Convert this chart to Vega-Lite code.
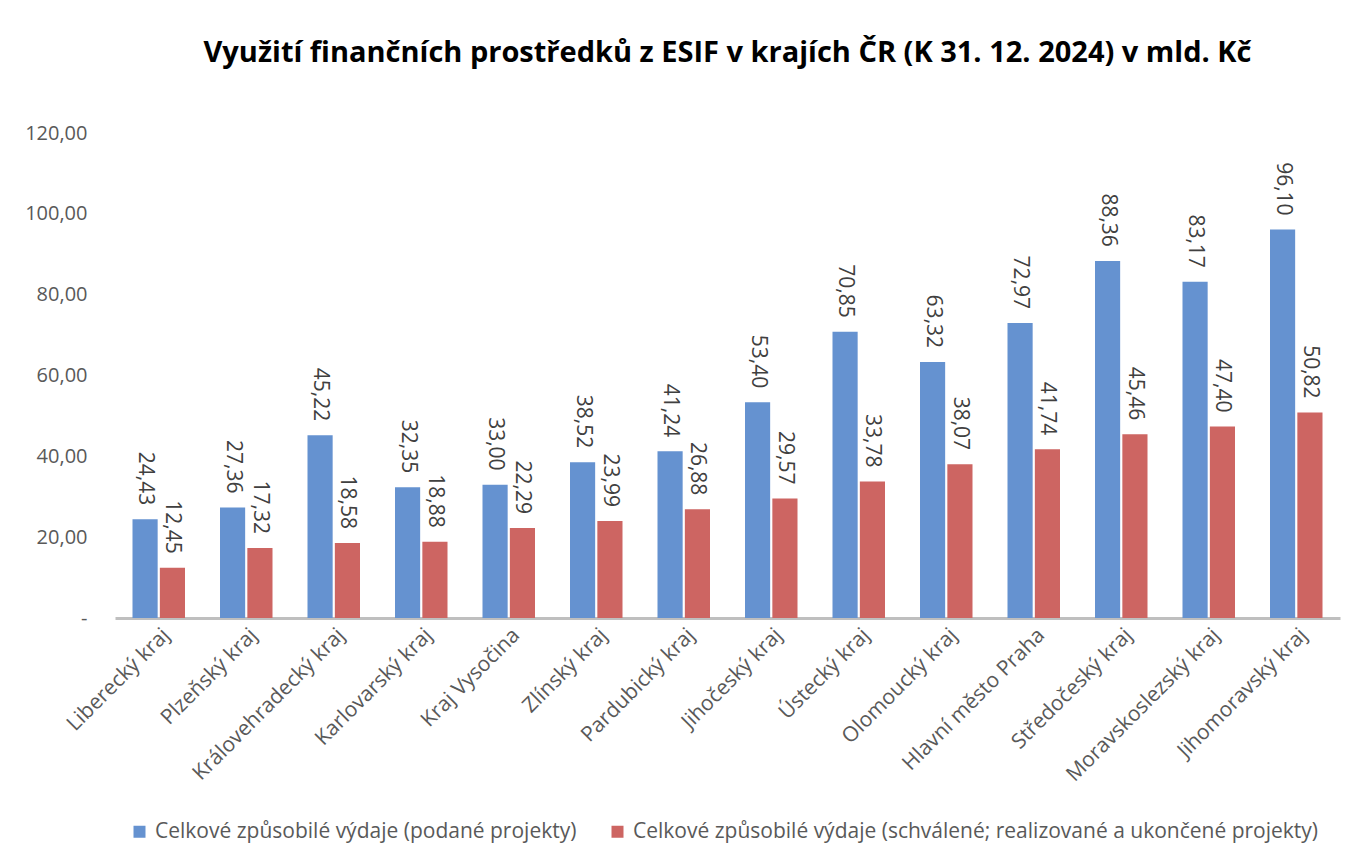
{
  "$schema": "https://vega.github.io/schema/vega-lite/v6.json",
  "autosize": {"type": "none"},
  "width": 1225,
  "height": 485,
  "padding": {"left": 115, "top": 133, "right": 22, "bottom": 230},
  "background": "white",
  "config": {
    "font": "Open Sans",
    "view": {"stroke": null},
    "locale": {"number": {"decimal": ",", "thousands": " ", "grouping": [3], "currency": ["", " Kč"]}}
  },
  "title": {
    "text": "Využití finančních prostředků z ESIF v krajích ČR (K 31. 12. 2024) v mld. Kč",
    "fontSize": 29,
    "fontWeight": "bold",
    "color": "#000000",
    "anchor": "middle",
    "offset": 55,
    "font": "Open Sans"
  },
  "data": {
    "values": [
      {"kraj": "Liberecký kraj", "serie": "Celkové způsobilé výdaje (podané projekty)", "hodnota": 24.43},
      {"kraj": "Plzeňský kraj", "serie": "Celkové způsobilé výdaje (podané projekty)", "hodnota": 27.36},
      {"kraj": "Královehradecký kraj", "serie": "Celkové způsobilé výdaje (podané projekty)", "hodnota": 45.22},
      {"kraj": "Karlovarský kraj", "serie": "Celkové způsobilé výdaje (podané projekty)", "hodnota": 32.35},
      {"kraj": "Kraj Vysočina", "serie": "Celkové způsobilé výdaje (podané projekty)", "hodnota": 33.00},
      {"kraj": "Zlínský kraj", "serie": "Celkové způsobilé výdaje (podané projekty)", "hodnota": 38.52},
      {"kraj": "Pardubický kraj", "serie": "Celkové způsobilé výdaje (podané projekty)", "hodnota": 41.24},
      {"kraj": "Jihočeský kraj", "serie": "Celkové způsobilé výdaje (podané projekty)", "hodnota": 53.40},
      {"kraj": "Ústecký kraj", "serie": "Celkové způsobilé výdaje (podané projekty)", "hodnota": 70.85},
      {"kraj": "Olomoucký kraj", "serie": "Celkové způsobilé výdaje (podané projekty)", "hodnota": 63.32},
      {"kraj": "Hlavní město Praha", "serie": "Celkové způsobilé výdaje (podané projekty)", "hodnota": 72.97},
      {"kraj": "Středočeský kraj", "serie": "Celkové způsobilé výdaje (podané projekty)", "hodnota": 88.36},
      {"kraj": "Moravskoslezský kraj", "serie": "Celkové způsobilé výdaje (podané projekty)", "hodnota": 83.17},
      {"kraj": "Jihomoravský kraj", "serie": "Celkové způsobilé výdaje (podané projekty)", "hodnota": 96.10},
      {"kraj": "Liberecký kraj", "serie": "Celkové způsobilé výdaje (schválené; realizované a ukončené projekty)", "hodnota": 12.45},
      {"kraj": "Plzeňský kraj", "serie": "Celkové způsobilé výdaje (schválené; realizované a ukončené projekty)", "hodnota": 17.32},
      {"kraj": "Královehradecký kraj", "serie": "Celkové způsobilé výdaje (schválené; realizované a ukončené projekty)", "hodnota": 18.58},
      {"kraj": "Karlovarský kraj", "serie": "Celkové způsobilé výdaje (schválené; realizované a ukončené projekty)", "hodnota": 18.88},
      {"kraj": "Kraj Vysočina", "serie": "Celkové způsobilé výdaje (schválené; realizované a ukončené projekty)", "hodnota": 22.29},
      {"kraj": "Zlínský kraj", "serie": "Celkové způsobilé výdaje (schválené; realizované a ukončené projekty)", "hodnota": 23.99},
      {"kraj": "Pardubický kraj", "serie": "Celkové způsobilé výdaje (schválené; realizované a ukončené projekty)", "hodnota": 26.88},
      {"kraj": "Jihočeský kraj", "serie": "Celkové způsobilé výdaje (schválené; realizované a ukončené projekty)", "hodnota": 29.57},
      {"kraj": "Ústecký kraj", "serie": "Celkové způsobilé výdaje (schválené; realizované a ukončené projekty)", "hodnota": 33.78},
      {"kraj": "Olomoucký kraj", "serie": "Celkové způsobilé výdaje (schválené; realizované a ukončené projekty)", "hodnota": 38.07},
      {"kraj": "Hlavní město Praha", "serie": "Celkové způsobilé výdaje (schválené; realizované a ukončené projekty)", "hodnota": 41.74},
      {"kraj": "Středočeský kraj", "serie": "Celkové způsobilé výdaje (schválené; realizované a ukončené projekty)", "hodnota": 45.46},
      {"kraj": "Moravskoslezský kraj", "serie": "Celkové způsobilé výdaje (schválené; realizované a ukončené projekty)", "hodnota": 47.40},
      {"kraj": "Jihomoravský kraj", "serie": "Celkové způsobilé výdaje (schválené; realizované a ukončené projekty)", "hodnota": 50.82}
    ]
  },
  "encoding": {
    "x": {
      "field": "kraj",
      "type": "nominal",
      "sort": null,
      "scale": {"paddingInner": 0.4, "paddingOuter": 0.2},
      "axis": {
        "title": null,
        "labelAngle": -45,
        "labelAlign": "right",
        "labelBaseline": "top",
        "labelFontSize": 21,
        "labelColor": "#595959",
        "labelPadding": 6,
        "ticks": false,
        "domainColor": "#bfbfbf",
        "domainWidth": 3,
        "labelLimit": 400
      }
    },
    "xOffset": {"field": "serie", "type": "nominal", "scale": {"paddingInner": 0.08}},
    "y": {
      "field": "hodnota",
      "type": "quantitative",
      "scale": {"domain": [0, 120], "nice": false},
      "axis": {
        "title": null,
        "values": [0, 20, 40, 60, 80, 100, 120],
        "labelExpr": "datum.value === 0 ? '-' : format(datum.value, '.2f')",
        "labelFontSize": 20,
        "labelColor": "#595959",
        "labelPadding": 28,
        "domain": false,
        "ticks": false,
        "grid": false
      }
    }
  },
  "layer": [
    {
      "mark": {"type": "bar"},
      "encoding": {
        "color": {
          "field": "serie",
          "type": "nominal",
          "scale": {"range": ["#6592D0", "#CD6562"]},
          "legend": {
            "title": null,
            "orient": "none",
            "direction": "horizontal",
            "legendX": 14,
            "legendY": 688,
            "symbolType": "square",
            "symbolSize": 144,
            "labelFontSize": 21,
            "labelColor": "#595959",
            "labelLimit": 900,
            "labelOffset": 5,
            "columnPadding": 30,
            "symbolStrokeWidth": 0
          }
        }
      }
    },
    {
      "mark": {"type": "text", "angle": 90, "align": "right", "baseline": "middle", "dx": -14, "fontSize": 21, "color": "#404040"},
      "encoding": {
        "text": {"field": "hodnota", "type": "quantitative", "format": ".2f"}
      }
    }
  ]
}
